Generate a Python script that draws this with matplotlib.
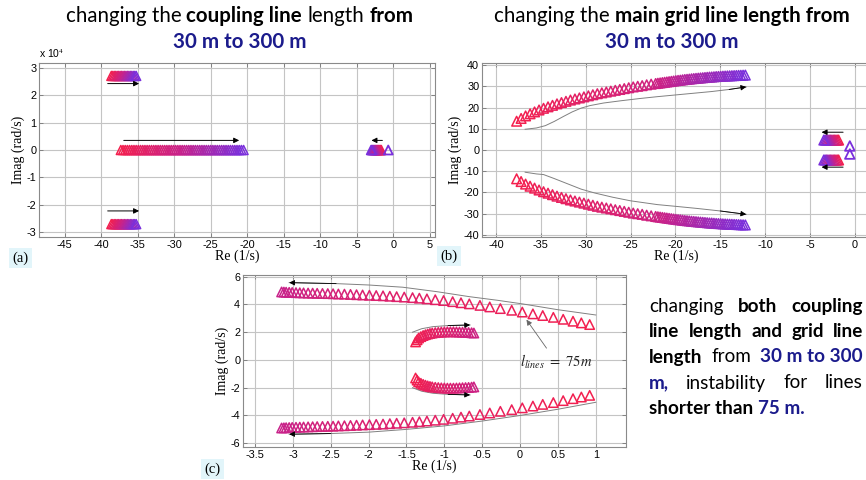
import numpy as np
import matplotlib
matplotlib.use('Agg')
import matplotlib.pyplot as plt
from matplotlib.colors import LinearSegmentedColormap
from matplotlib.ticker import FuncFormatter

plt.rcParams['axes.unicode_minus'] = False
plt.rcParams['mathtext.fontset'] = 'stix'

# ---- data ----
# (a) coupling line length 30 m -> 300 m, imag in rad/s
a_hf_re = [-38.6, -38.4, -38.2, -38.0, -37.8, -37.6, -37.4, -37.2, -37.0,
           -36.8, -36.6, -36.4, -36.2, -36.0, -35.8, -35.6, -35.4, -35.2]
a_hf_im = 2.7e4
a_mid_re = [-37.3, -37.0, -36.7, -36.4, -36.1, -35.8, -35.5, -35.2, -34.9, -34.6,
            -34.3, -34.0, -33.7, -33.4, -33.1, -32.8, -32.5, -32.2, -31.9, -31.6,
            -31.3, -31.0, -30.7, -30.4, -30.1, -29.8, -29.5, -29.2, -28.9, -28.6,
            -28.3, -28.0, -27.7, -27.4, -27.1, -26.8, -26.5, -26.2, -25.9, -25.6,
            -25.3, -25.0, -24.7, -24.4, -24.1, -23.8, -23.5, -23.2, -22.9, -22.6,
            -22.3, -22.0, -21.7, -21.4, -21.1, -20.8, -20.5]
a_slow_re = [-1.65, -1.75, -1.85, -1.95, -2.05, -2.15, -2.25, -2.35,
             -2.45, -2.55, -2.65, -2.75, -2.85, -2.95, -3.05]
a_slow_end = -0.7

# (b) main grid line length 30 m -> 300 m
b_up_re = [-37.7, -37.2, -36.7, -36.2, -35.7, -35.2, -34.7, -34.2, -33.7, -33.2,
           -32.7, -32.2, -31.7, -31.2, -30.7, -30.2, -29.7, -29.2, -28.7, -28.2,
           -27.7, -27.2, -26.7, -26.2, -25.7, -25.2, -24.7, -24.2, -23.7, -23.2,
           -22.7, -22.2, -21.95, -21.7, -21.45, -21.2, -20.95, -20.7, -20.45, -20.2,
           -19.95, -19.7, -19.45, -19.2, -18.95, -18.7, -18.45, -18.2, -17.95, -17.7,
           -17.45, -17.2, -16.95, -16.7, -16.45, -16.2, -15.95, -15.7, -15.45, -15.2,
           -14.95, -14.7, -14.45, -14.2, -13.95, -13.7, -13.45, -13.2, -12.95, -12.7,
           -12.45, -12.2]
b_up_im = [13.6, 14.9, 16.1, 17.1, 18.0, 18.9, 19.7, 20.4, 21.1, 21.8,
           22.4, 23.0, 23.6, 24.1, 24.6, 25.1, 25.6, 26.1, 26.6, 27.0,
           27.4, 27.8, 28.2, 28.6, 29.0, 29.4, 29.8, 30.1, 30.4, 30.8,
           31.1, 31.4, 31.55, 31.7, 31.85, 32.0, 32.15, 32.3, 32.45, 32.6,
           32.75, 32.9, 33.0, 33.15, 33.3, 33.4, 33.5, 33.65, 33.75, 33.85,
           33.95, 34.05, 34.15, 34.25, 34.35, 34.45, 34.5, 34.6, 34.7, 34.75,
           34.8, 34.9, 34.95, 35.0, 35.05, 35.1, 35.15, 35.2, 35.25, 35.3,
           35.35, 35.4]
b_fast_re = [-1.8, -1.95, -2.1, -2.25, -2.4, -2.55, -2.7, -2.85, -3.0, -3.15, -3.3, -3.45]
b_fast_im = 4.7
b_end = (-0.55, 1.9)
# guide curves drawn next to the loci
b_guide_up = ([-36.75, -35.5, -34.5, -33.5, -32.5, -31.5, -30.5, -29.5, -28.0, -26.0,
               -24.0, -22.0, -20.0, -18.0, -16.0, -14.0, -12.1],
              [9.8, 10.4, 11.5, 13.5, 15.8, 18.0, 19.8, 21.0, 22.2, 23.3,
               24.3, 25.2, 26.0, 26.8, 27.6, 28.6, 29.8])
b_guide_lo = ([-36.75, -35.5, -34.7, -33.5, -32.0, -30.5, -29.0, -27.0, -25.0,
               -22.0, -20.0, -17.6, -15.0, -12.1],
              [-10.5, -11.3, -11.6, -13.5, -16.0, -18.5, -20.3, -22.3, -24.0,
               -25.8, -26.6, -27.6, -28.8, -30.4])

# (c) both lengths 30 m -> 300 m
c_re = [0.92, 0.81, 0.70, 0.57, 0.44, 0.30, 0.17, 0.03, -0.11, -0.26,
        -0.40, -0.53, -0.67, -0.78, -0.89, -1.01, -1.12, -1.23, -1.33, -1.42,
        -1.53, -1.63, -1.72, -1.81, -1.90, -1.99, -2.08, -2.16, -2.24, -2.32,
        -2.40, -2.47, -2.54, -2.61, -2.68, -2.74, -2.80, -2.86, -2.91, -2.96,
        -3.01, -3.05, -3.09, -3.12, -3.15]
c_im = [2.55, 2.67, 2.79, 2.93, 3.07, 3.20, 3.32, 3.45, 3.58, 3.70,
        3.82, 3.93, 4.04, 4.12, 4.20, 4.28, 4.34, 4.40, 4.45, 4.49,
        4.53, 4.56, 4.59, 4.62, 4.64, 4.66, 4.68, 4.70, 4.72, 4.74,
        4.75, 4.77, 4.78, 4.79, 4.80, 4.81, 4.82, 4.83, 4.84, 4.85,
        4.86, 4.87, 4.88, 4.89, 4.90]
c_arc_re = [-1.38, -1.36, -1.34, -1.31, -1.28, -1.25, -1.22, -1.19, -1.16, -1.12,
            -1.08, -1.04, -1.0, -0.96, -0.92, -0.88, -0.84, -0.80, -0.76, -0.72,
            -0.68, -0.64, -0.61]
c_arc_im = [1.3, 1.45, 1.58, 1.68, 1.76, 1.82, 1.87, 1.91, 1.94, 1.97,
            1.99, 2.01, 2.02, 2.03, 2.03, 2.03, 2.02, 2.01, 2.0, 1.99,
            1.98, 1.96, 1.94]
c_guide_up = ([-3.05, -2.43, -2.0, -1.55, -1.1, -0.67, -0.3, 0.03, 0.5, 1.0],
              [5.57, 5.5, 5.4, 5.24, 4.92, 4.56, 4.3, 4.04, 3.62, 3.24])
c_guide_lo = ([-3.05, -2.5, -2.0, -1.5, -1.0, -0.5, 0.0, 0.5, 1.0],
              [-5.35, -5.3, -5.2, -5.0, -4.75, -4.4, -4.0, -3.55, -3.05])
c_arc_guide = ([-1.42, -1.3, -1.15, -0.95, -0.66], [2.0, 2.25, 2.4, 2.48, 2.52])
c_mark = (0.085, 2.9)

W, H = 866, 480
K = 'black'
NAVY = '#1b1b8c'
TXT = 'Lato'
cmap = LinearSegmentedColormap.from_list('len', ['#f4204e', '#c8228a', '#7a30dc'])

fig = plt.figure(figsize=(W / 100, H / 100), dpi=100)


def px_axes(l, t, r, b):
    return fig.add_axes([l / W, 1 - b / H, (r - l) / W, (b - t) / H])


def style(ax, xticks, yticks):
    ax.set_xticks(xticks)
    ax.set_yticks(yticks)
    ax.xaxis.set_major_formatter(FuncFormatter(lambda v, p: '%g' % v))
    ax.grid(True, color='#c4c4c4', lw=0.8)
    ax.set_axisbelow(True)
    ax.tick_params(direction='in', top=True, right=True, length=3, width=0.6,
                   color='#777777', labelsize=7.8, pad=2)
    for lab in ax.get_xticklabels() + ax.get_yticklabels():
        lab.set_family('Liberation Sans')
    for sp in ax.spines.values():
        sp.set_color('#8a8a8a')
        sp.set_linewidth(0.8)
    ax.set_xlabel('Re (1/s)', family='Liberation Serif', fontsize=10, labelpad=0)
    ax.set_ylabel('Imag (rad/s)', family='Liberation Serif', fontsize=10, labelpad=1)


def tri(ax, re, im, t0=0.0, t1=1.0, s=42, lw=1.1):
    cols = cmap(np.linspace(t0, t1, len(re)))
    ax.scatter(re, im, marker='^', s=s, facecolors='none', edgecolors=cols,
               linewidths=lw, zorder=3)


def arrow(ax, xy, xytext, color='k', lw=0.7):
    ax.annotate('', xy=xy, xytext=xytext,
                arrowprops=dict(arrowstyle='-|>', color=color, lw=lw,
                                mutation_scale=8, shrinkA=0, shrinkB=0))


def guide(ax, xs, ys, head_at_end=True):
    ax.plot(xs, ys, color='#808080', lw=0.7, zorder=2)
    if head_at_end:
        arrow(ax, (xs[-1], ys[-1]), (xs[-2], ys[-2]), lw=0.6)
    else:
        arrow(ax, (xs[0], ys[0]), (xs[1], ys[1]), lw=0.6)


# ---- panel (a) ----
ax_a = px_axes(39, 63, 435, 237)
tri(ax_a, a_hf_re, np.full(len(a_hf_re), a_hf_im))
tri(ax_a, a_hf_re, np.full(len(a_hf_re), -a_hf_im))
tri(ax_a, a_mid_re, np.zeros(len(a_mid_re)))
tri(ax_a, a_slow_re, np.zeros(len(a_slow_re)))
ax_a.scatter([a_slow_end], [0], marker='^', s=42, facecolors='none',
             edgecolors=[cmap(1.0)], linewidths=1.3, zorder=3)
arrow(ax_a, (-34.8, 2.42e4), (-39.1, 2.42e4))
arrow(ax_a, (-34.8, -2.22e4), (-39.1, -2.22e4))
arrow(ax_a, (-21.1, 0.35e4), (-36.9, 0.35e4))
arrow(ax_a, (-3.0, 0.35e4), (-1.5, 0.35e4))
ax_a.set_xlim(-48.5, 5.7)
ax_a.set_ylim(-3.17e4, 3.17e4)
a_yt = np.arange(-3, 4)
style(ax_a, np.arange(-45, 6, 5), a_yt * 1e4)
ax_a.set_yticklabels(['%d' % v for v in a_yt], family='Liberation Sans')
ax_a.text(0.0, 1.015, 'x 10$^4$', transform=ax_a.transAxes, fontsize=7.5,
          family='Liberation Sans', ha='left', va='bottom')

# ---- panel (b) ----
ax_b = px_axes(482, 63, 870, 237)
tri(ax_b, b_up_re, b_up_im, s=48)
tri(ax_b, b_up_re, -np.array(b_up_im), s=48)
tri(ax_b, b_fast_re, np.full(len(b_fast_re), b_fast_im), s=48)
tri(ax_b, b_fast_re, np.full(len(b_fast_re), -b_fast_im), s=48)
ax_b.scatter([b_end[0], b_end[0]], [b_end[1], -b_end[1]], marker='^', s=48,
             facecolors='none', edgecolors=[cmap(1.0)], linewidths=1.3, zorder=3)
guide(ax_b, *b_guide_up)
guide(ax_b, *b_guide_lo)
arrow(ax_b, (-3.7, 8.4), (-1.3, 8.4))
arrow(ax_b, (-3.7, -8.1), (-1.3, -8.1))
ax_b.set_xlim(-41.56, 1.7)
ax_b.set_ylim(-41.1, 41.1)
style(ax_b, np.arange(-40, 1, 5), np.arange(-40, 41, 10))

# ---- panel (c) ----
ax_c = px_axes(243, 275, 626, 447)
tri(ax_c, c_re, c_im, 0.0, 0.5, s=46)
tri(ax_c, c_re, -np.array(c_im), 0.0, 0.5, s=46)
tri(ax_c, c_arc_re, c_arc_im, 0.0, 0.45, s=46)
tri(ax_c, c_arc_re, -np.array(c_arc_im), 0.0, 0.45, s=46)
guide(ax_c, *c_guide_up, head_at_end=False)
guide(ax_c, *c_guide_lo, head_at_end=False)
guide(ax_c, *c_arc_guide)
guide(ax_c, c_arc_guide[0], [-v for v in c_arc_guide[1]])
arrow(ax_c, c_mark, (0.35, 0.85), color='#666666', lw=0.6)
ax_c.text(0.0, -0.15, r'$l_{\mathit{lines}}\ =\ 75m$', fontsize=10.5, ha='left',
          va='center', color='#222222')
ax_c.set_xlim(-3.66, 1.4)
ax_c.set_ylim(-6.27, 6.12)
style(ax_c, np.arange(-3.5, 1.01, 0.5), np.arange(-6, 7, 2))

# ---- panel tags ----
for lab, x, y in [('(a)', 12, 258), ('(b)', 440, 256), ('(c)', 204, 469)]:
    fig.text(x / W, 1 - y / H, lab, family='Liberation Serif', fontsize=10.5,
             va='center', ha='left',
             bbox=dict(facecolor='#e2f5fa', edgecolor='none', pad=2.5))

# ---- rich text helpers ----
renderer = fig.canvas.get_renderer()


def width(s, bold, size):
    kw = dict(fontsize=size, family=TXT, weight='bold' if bold else 'normal')
    t1 = fig.text(0, 0, '|' + s + '|', **kw)
    t2 = fig.text(0, 0, '||', **kw)
    w = t1.get_window_extent(renderer).width - t2.get_window_extent(renderer).width
    t1.remove()
    t2.remove()
    return w


def put(x, base, s, bold, color, size):
    fig.text(x / W, 1 - base / H, s, fontsize=size, family=TXT,
             weight='bold' if bold else 'normal', color=color,
             va='baseline', ha='left')


def rich(cx, base, parts, size):
    total = sum(width(s, b, size) for s, b, c in parts)
    x = cx - total / 2
    for s, b, c in parts:
        lead = width(s[:len(s) - len(s.lstrip())], b, size)
        put(x + lead, base, s.strip(), b, c, size)
        x += width(s, b, size)


title_a = [('changing the ', False, K), ('coupling line', True, K),
           (' length ', False, K), ('from', True, K)]
title_b = [('changing the ', False, K), ('main grid line length from', True, K)]
range_txt = [('30 m to 300 m', True, NAVY)]

fs = 10 * 345 / width('changing the coupling line length from', False, 10)
rich(239.5, 21.7, title_a, fs)
rich(239.5, 48.3, range_txt, fs)
rich(671.5, 21.7, title_b, fs)
rich(671.5, 48.3, range_txt, fs)

# justified paragraph next to (c), set between the two margins
LEFT, RIGHT = 649, 863
para = [
    (311.7, [('changing', False, K), ('both', True, K), ('coupling', True, K)]),
    (336.7, [('line', True, K), ('length', True, K), ('and', True, K),
             ('grid', True, K), ('line', True, K)]),
    (362.5, [('length', True, K), ('from', False, K), ('30 m to 300', True, NAVY)]),
    (388.5, [('m,', True, NAVY), ('instability', False, K), ('for', False, K),
             ('lines', False, K)]),
]
last_line = (414.0, [('shorter than ', True, K), ('75 m.', True, NAVY)])

ps = fs * 0.92
while True:
    gaps = []
    for base, ws in para:
        used = sum(width(s, b, ps) for s, b, c in ws)
        gaps.append((RIGHT - LEFT - used) / (len(ws) - 1))
    if min(gaps) >= 0.3 * ps * 100 / 72 or ps < 0.6 * fs:
        break
    ps *= 0.97

for (base, ws), gap in zip(para, gaps):
    x = LEFT
    for s, b, c in ws:
        put(x, base, s, b, c, ps)
        x += width(s, b, ps) + gap

x = LEFT
for s, b, c in last_line[1]:
    lead = width(s[:len(s) - len(s.lstrip())], b, ps)
    put(x + lead, last_line[0], s.strip(), b, c, ps)
    x += width(s, b, ps)

fig.savefig('out.png', dpi=100)
